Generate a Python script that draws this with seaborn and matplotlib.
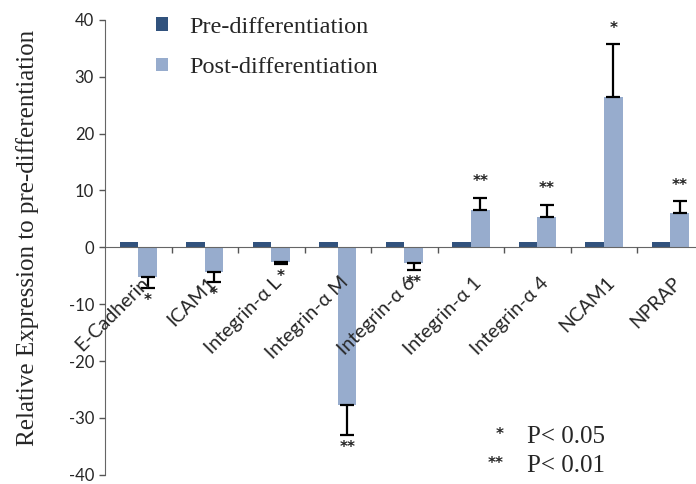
import numpy as np
import pandas as pd
import matplotlib
matplotlib.use("Agg")
import matplotlib.pyplot as plt
import matplotlib.transforms as mtransforms
import seaborn as sns

## ------------------------------ datos ------------------------------
genes = ["E-Cadherin", "ICAM1", "Integrin-\u03b1 L", "Integrin-\u03b1 M", "Integrin-\u03b1 6",
         "Integrin-\u03b1 1", "Integrin-\u03b1 4", "NCAM1", "NPRAP"]
pre_vals = [1, 1, 1, 1, 1, 1, 1, 1, 1]
post_vals = [-5.2, -4.3, -2.5, -27.8, -2.8, 6.6, 5.4, 26.5, 6.1]
post_err = [2.0, 1.8, 0.4, 5.2, 1.2, 2.1, 2.1, 9.2, 2.0]
stars = ["*", "*", "*", "**", "**", "**", "**", "*", "**"]
series = ["Pre-differentiation", "Post-differentiation"]

df = pd.DataFrame({
    "gene": genes * 2,
    "serie": [series[0]] * len(genes) + [series[1]] * len(genes),
    "valor": pre_vals + post_vals,
})

## ------------------------------ figura ------------------------------
sns.set_style("white")
plt.rcParams["axes.unicode_minus"] = False
fig = plt.figure(figsize=(6.96, 4.84), dpi=100)
ax = fig.add_axes([0.151, 0.019, 0.86, 0.94])

sns.barplot(data=df, x="gene", y="valor", hue="serie", order=genes, hue_order=series,
            palette=["#24508a", "#8eaad6"], width=0.56, errorbar=None, ax=ax,
            edgecolor="none", linewidth=0)

## barras de error de un solo lado + asteriscos
post_bars = ax.containers[1]
for bar, v, e, s in zip(post_bars, post_vals, post_err, stars):
    xc = bar.get_x() + bar.get_width() / 2
    if v < 0:
        yerr = [[e], [0]]
        ystar = v - e - 2.2
    else:
        yerr = [[0], [e]]
        ystar = v + e + 2.8
    ax.errorbar(xc, v, yerr=yerr, fmt="none", ecolor="black", elinewidth=1.6,
                capsize=5, capthick=1.6)
    ax.text(xc, ystar, s, ha="center", va="center", fontsize=11, fontweight="bold",
            family="DejaVu Sans", color="#222222")

## ejes
ax.set_axisbelow(False)
ax.set_ylim(-40, 40)
ax.set_xlim(-0.5, len(genes) - 0.5)
ax.set_yticks(range(-40, 41, 10))
ax.tick_params(axis="y", labelsize=12, length=4, width=1, color="#555555", left=True, pad=4)
for lbl in ax.get_yticklabels():
    lbl.set_family("Lato")

ax.spines["bottom"].set_position(("data", 0))
ax.spines["top"].set_visible(False)
ax.spines["right"].set_visible(False)
ax.spines["left"].set_color("#666666")
ax.spines["bottom"].set_color("#666666")

ax.set_xticks(range(len(genes)))
ax.set_xticklabels(genes, rotation=45, ha="right", rotation_mode="anchor",
                   fontsize=14, family="Lato")
ax.tick_params(axis="x", length=0, pad=19)
shift = mtransforms.ScaledTranslation(2 / 100, 0, fig.dpi_scale_trans)
for lbl in ax.get_xticklabels():
    lbl.set_transform(lbl.get_transform() + shift)
ax.set_xticks(np.arange(0.5, len(genes) - 0.5, 1), minor=True)
ax.tick_params(axis="x", which="minor", length=4, width=1, color="#555555", bottom=True)

ax.set_xlabel("")
ax.set_ylabel("Relative Expression to pre-differentiation", fontsize=18,
              family="Liberation Serif")
ax.yaxis.set_label_coords(-0.11, 0.52)

## leyenda
ax.legend(loc="upper left", bbox_to_anchor=(0.048, 1.055), frameon=False,
          prop={"family": "Liberation Serif", "size": 17.5}, handlelength=0.5,
          handleheight=0.5, handletextpad=0.9, labelspacing=0.8)

## nota de significancia
fig.text(0.718, 0.093, "*", fontsize=11, fontweight="bold", family="DejaVu Sans", ha="center")
fig.text(0.757, 0.085, "P< 0.05", fontsize=18, family="Liberation Serif")
fig.text(0.712, 0.033, "**", fontsize=11, fontweight="bold", family="DejaVu Sans", ha="center")
fig.text(0.757, 0.025, "P< 0.01", fontsize=18, family="Liberation Serif")

fig.savefig("out.png", dpi=100)
